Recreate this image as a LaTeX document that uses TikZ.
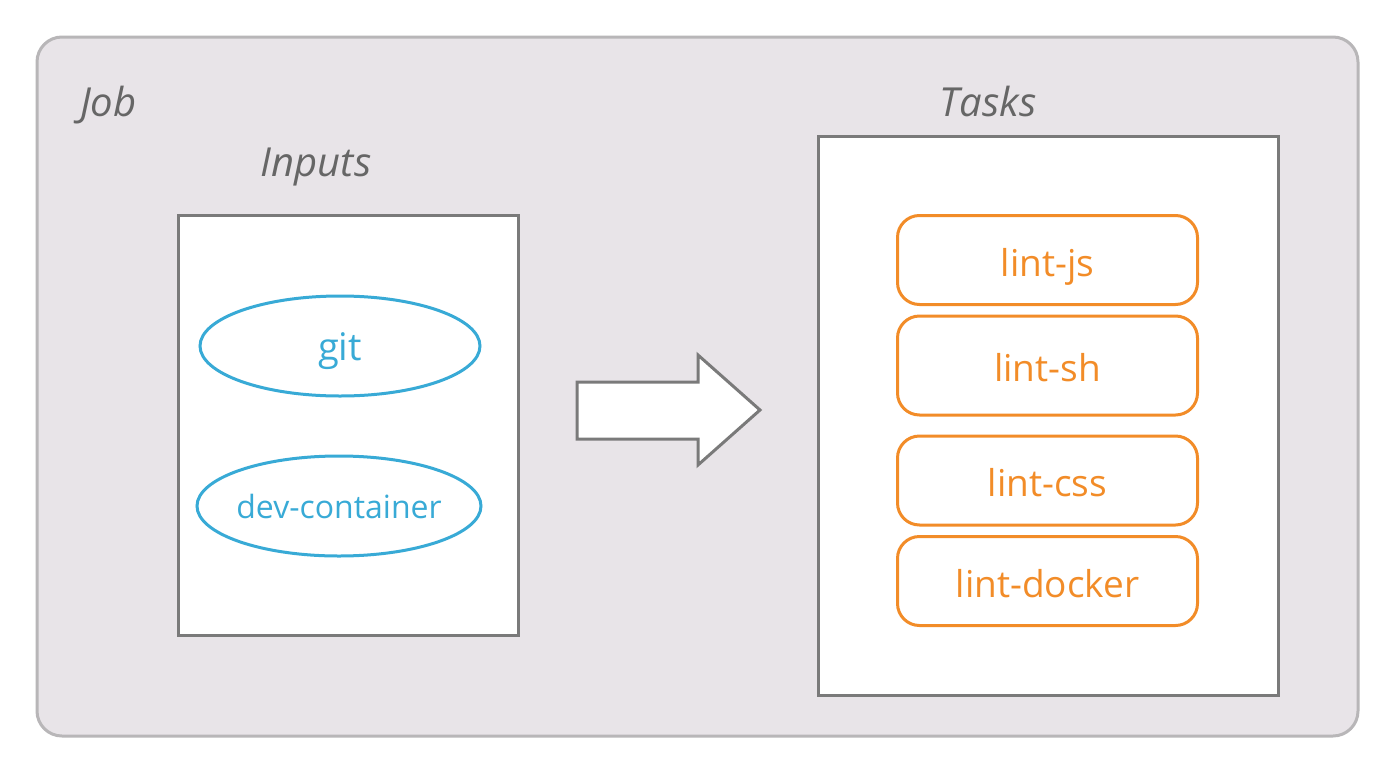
\documentclass[tikz,border=0pt]{standalone}
\usepackage{fontspec}
\setmainfont{Open Sans}
\usetikzlibrary{shapes.geometric}
\definecolor{bgjob}{HTML}{E8E4E8}
\definecolor{jobline}{HTML}{B8B6B8}
\definecolor{boxline}{HTML}{7A7A7A}
\definecolor{labgray}{HTML}{666666}
\definecolor{inblue}{HTML}{38AAD6}
\definecolor{taskorange}{HTML}{F28C28}
\tikzset{
  title/.style={font=\fontsize{40}{46}\selectfont\itshape, text=labgray, inner sep=0pt},
  panel/.style={draw=boxline, line width=3pt, fill=white},
  inputell/.style={ellipse, draw=inblue, line width=3pt, text=inblue, inner sep=0pt,
     minimum width=280pt, minimum height=100pt, text depth=0pt},
  taskbox/.style={draw=taskorange, line width=3pt, rounded corners=22pt, text=taskorange,
     minimum width=300pt, minimum height=89pt, inner sep=0pt, text height=32pt, text depth=0pt,
     font=\fontsize{37}{42}\selectfont},
}
\begin{document}
\begin{tikzpicture}[x=1pt,y=-1pt]
\useasboundingbox (0,0) rectangle (1379,758);
\fill[white] (0,0) rectangle (1379,758);
% Job container
\draw[fill=bgjob, draw=jobline, line width=3pt, rounded corners=25pt] (37,37) rectangle (1358,736);
\node[title, anchor=base west] (job) at (80,116) {Job};
% Inputs
\node[title, anchor=base] (inputslbl) at (316,176) {Inputs};
\draw[panel] (178,215) rectangle (518,635);
\node[inputell, text height=28pt, font=\fontsize{38}{44}\selectfont] (git) at (340,346) {git};
\node[inputell, minimum width=284pt, inner xsep=-40pt, text height=24pt, font=\fontsize{32}{38}\selectfont] (dev) at (339,506) {dev-container};
% Arrow
\draw[draw=boxline, line width=3pt, fill=white, line join=miter]
  (577,382) -- (698,382) -- (698,355) -- (760,410) -- (698,465) -- (698,439) -- (577,439) -- cycle;
% Tasks
\node[title, anchor=base] (taskslbl) at (988,116) {Tasks};
\draw[panel] (818,136) rectangle (1278,695);
\node[taskbox] (js) at (1047.5,260) {lint-js};
\node[taskbox, minimum height=99pt] (sh) at (1047.5,365.5) {lint-sh};
\node[taskbox] (css) at (1047.5,480.5) {lint-css};
\node[taskbox] (docker) at (1047.5,581) {lint-docker};
\end{tikzpicture}
\end{document}
